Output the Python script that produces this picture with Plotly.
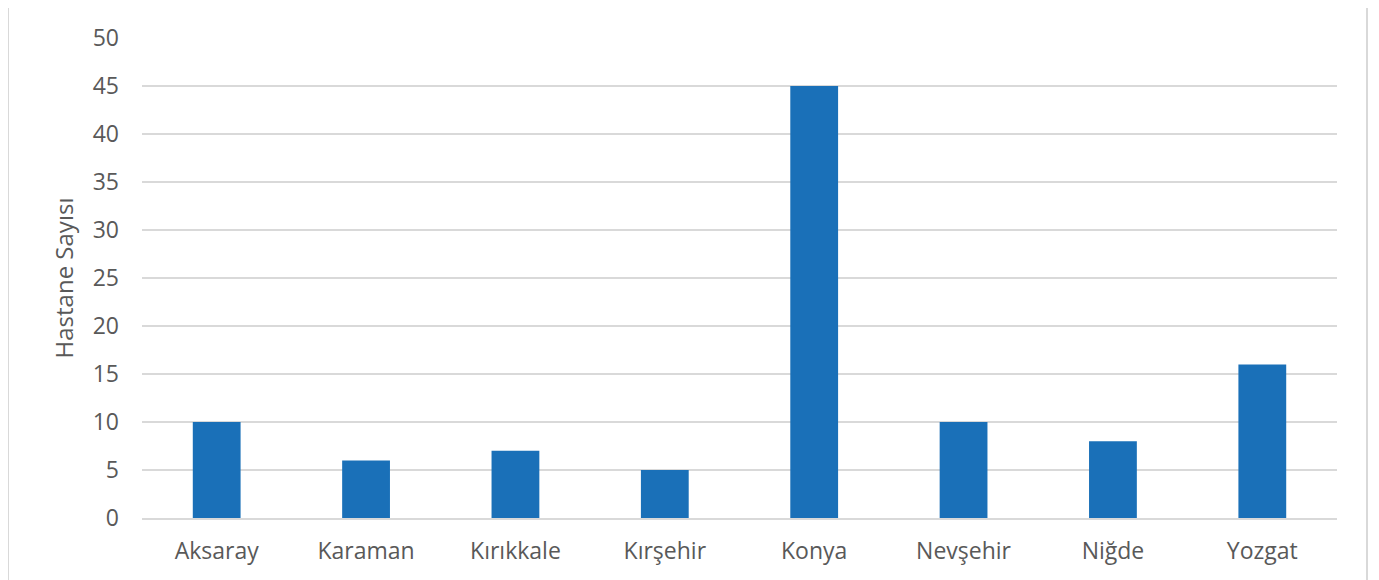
import plotly.graph_objects as go

categories = ["Aksaray", "Karaman", "Kırıkkale", "Kırşehir", "Konya", "Nevşehir", "Niğde", "Yozgat"]
values = [10, 6, 7, 5, 45, 10, 8, 16]
y_ticks = [0, 5, 10, 15, 20, 25, 30, 35, 40, 45, 50]

# page body has an 8px margin; figure sits at (8, 8)
OFF = 8
W, H = 1379 - OFF, 580 - OFF
L, R, T, B = 142 - OFF, 42, 38 - OFF, 62
pw, ph = W - L - R, H - T - B

fig = go.Figure(go.Bar(x=categories, y=values, marker=dict(color="#1a70b8", line=dict(width=0))))

def px(xpage):
    return (xpage - OFF - L) / pw

def py(ypage):
    return (H - B - (ypage - OFF)) / ph

fig.update_layout(
    width=W, height=H,
    margin=dict(l=L, r=R, t=T, b=B),
    paper_bgcolor="white", plot_bgcolor="white",
    bargap=0.68,
    font=dict(family="Open Sans, Noto Sans, sans-serif", size=23, color="#595959"),
    showlegend=False,
    shapes=[
        dict(type="line", xref="paper", yref="paper", x0=px(8), x1=px(8), y0=py(8), y1=py(580),
             line=dict(color="#d9d9d9", width=2)),
        dict(type="line", xref="paper", yref="paper", x0=px(1367), x1=px(1367), y0=py(8), y1=py(580),
             line=dict(color="#d9d9d9", width=2)),
    ],
)
fig.update_xaxes(showgrid=False, showline=True, linecolor="#d9d9d9", linewidth=1.5,
                 ticks="", ticklabelstandoff=12, tickfont=dict(size=23, color="#595959"))
fig.update_yaxes(range=[0, 50], tickvals=y_ticks, showgrid=True, gridcolor="#d9d9d9", gridwidth=1.5,
                 zeroline=False, showline=False, ticks="", ticklabelstandoff=22,
                 tickfont=dict(size=23, color="#595959"),
                 title=dict(text="Hastane Sayısı", font=dict(size=24, color="#595959"), standoff=12))

fig.write_html("out.html")
